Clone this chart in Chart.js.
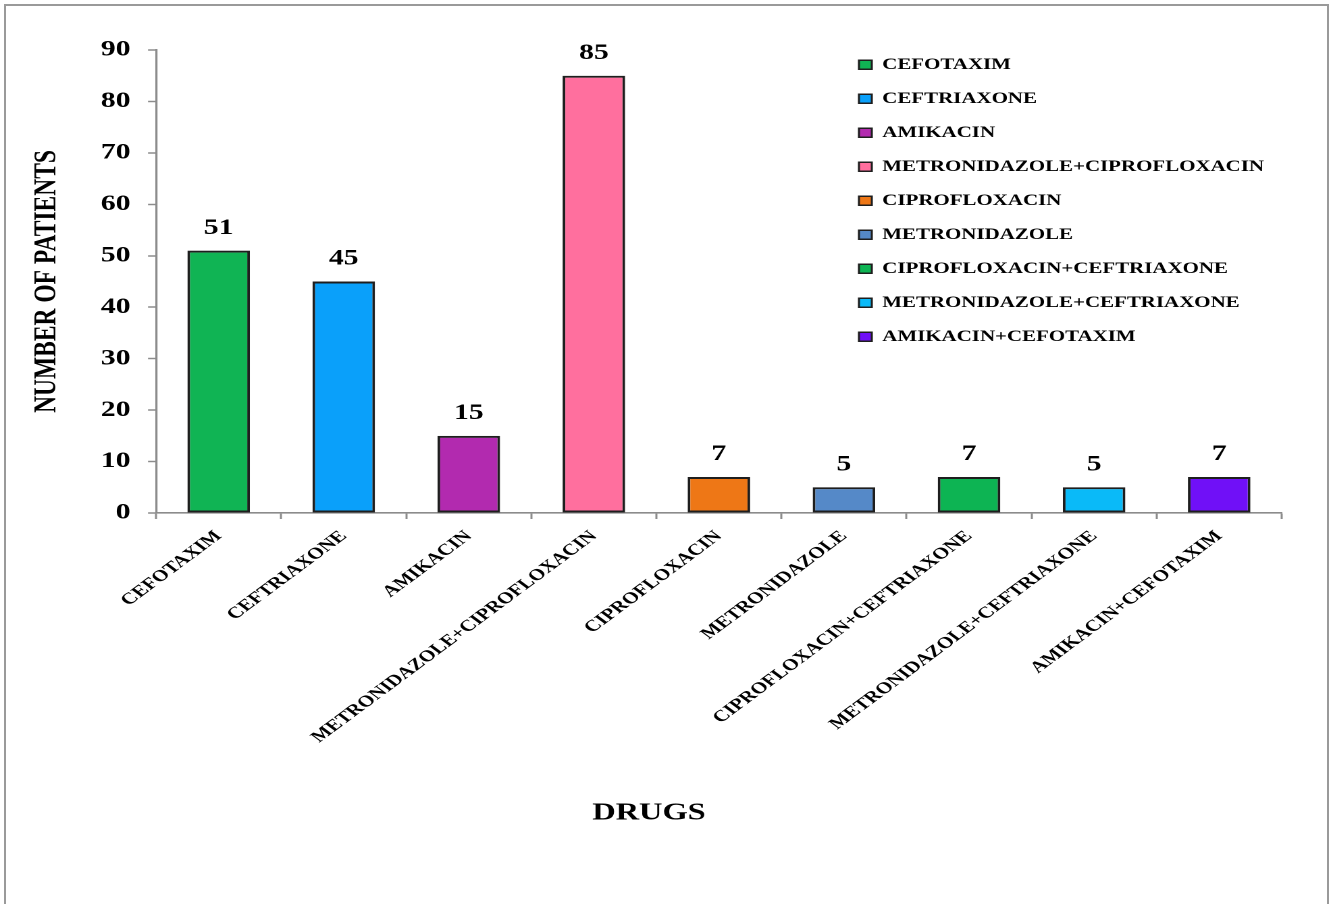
<!DOCTYPE html>
<html>
<head>
<meta charset="utf-8">
<title>Number of patients by drug</title>
<script src="https://cdn.jsdelivr.net/npm/chart.js@4.4.1/dist/chart.umd.min.js"></script>
<style>
  html, body { margin: 0; padding: 0; background: #fff; overflow: hidden; }
  #wrap { position: relative; width: 1333px; height: 904px; }
  #frame {
    position: absolute; left: 4px; top: 4px; width: 1321px; height: 930px;
    border: 2px solid #9a9a9a; pointer-events: none;
  }
</style>
</head>
<body>
<div id="wrap">
  <!-- drawn on a narrower canvas and widened to the page width -->
  <canvas id="c" width="987" height="904" style="display:block;width:1333px;height:904px"></canvas>
  <div id="frame"></div>
</div>
<script>
const drugs = [
  'CEFOTAXIM',
  'CEFTRIAXONE',
  'AMIKACIN',
  'METRONIDAZOLE+CIPROFLOXACIN',
  'CIPROFLOXACIN',
  'METRONIDAZOLE',
  'CIPROFLOXACIN+CEFTRIAXONE',
  'METRONIDAZOLE+CEFTRIAXONE',
  'AMIKACIN+CEFOTAXIM'
];
const patients = [51, 45, 15, 85, 7, 5, 7, 5, 7];
const barColors = [
  '#10B454', '#0AA0FA', '#B22AAF', '#FF6F9E', '#EE7716',
  '#5589C8', '#0DB453', '#0ABAF8', '#7010F7'
];
const yTicks = [0, 10, 20, 30, 40, 50, 60, 70, 80, 90];

const W = 987, H = 904;
const FONT = "'Liberation Serif', 'Times New Roman', serif";

// number written above each bar
const valueLabels = {
  id: 'valueLabels',
  afterDatasetsDraw(chart) {
    const ctx = chart.ctx;
    const meta = chart.getDatasetMeta(0);
    ctx.save();
    ctx.font = 'bold 22px ' + FONT;
    ctx.fillStyle = '#000';
    ctx.textAlign = 'center';
    ctx.textBaseline = 'middle';
    meta.data.forEach((bar, i) => {
      ctx.fillText(String(patients[i]), bar.x, bar.y - 22.5);
    });
    ctx.restore();
  }
};

// place the legend in the upper right part of the plot
const legendPlacer = {
  id: 'legendPlacer',
  beforeDraw(chart) {
    const lg = chart.legend;
    if (!lg) return;
    lg.left = 617.5;
    lg.top = 38.5;
    lg.right = W;
    lg.bottom = H;
    lg.width = lg.right - lg.left;
    lg.height = lg.bottom - lg.top;
  }
};

new Chart(document.getElementById('c'), {
  type: 'bar',
  data: {
    labels: drugs,
    datasets: [{
      data: patients,
      backgroundColor: barColors,
      borderColor: '#1e1e1e',
      borderWidth: 2,
      borderSkipped: false,
      barPercentage: 0.5,
      categoryPercentage: 1.0
    }]
  },
  options: {
    responsive: false,
    devicePixelRatio: 2,
    animation: false,
    layout: { padding: { left: 12, right: 38, top: 50, bottom: 0 } },
    plugins: {
      tooltip: { enabled: false },
      title: {
        display: true,
        position: 'bottom',
        text: 'DRUGS',
        color: '#000',
        font: { family: FONT, size: 24, weight: 'bold' },
        padding: { top: 0, bottom: 76.1 }
      },
      legend: {
        display: true,
        position: 'chartArea',
        align: 'start',
        labels: {
          color: '#000',
          font: { family: FONT, size: 15.5, weight: 'bold' },
          boxWidth: 9.5,
          boxHeight: 9,
          padding: 18.5,
          generateLabels: () => drugs.map((name, i) => ({
            text: name,
            fillStyle: barColors[i],
            strokeStyle: '#1e1e1e',
            lineWidth: 1.5,
            fontColor: '#000',
            hidden: false,
            index: i,
            datasetIndex: 0
          }))
        }
      }
    },
    scales: {
      x: {
        afterFit: (scale) => { scale.height = 286.1; },
        grid: {
          display: true,
          drawOnChartArea: false,
          drawTicks: true,
          tickLength: 6,
          tickWidth: 1.5,
          tickColor: '#8c8c8c',
          offset: true
        },
        border: { display: true, color: '#8c8c8c', width: 1.6 },
        ticks: {
          autoSkip: false,
          minRotation: 45,
          maxRotation: 45,
          padding: 8,
          color: '#000',
          font: { family: FONT, size: 16, weight: 'bold' }
        }
      },
      y: {
        min: 0,
        max: 90,
        afterFit: (scale) => { scale.width = 103.6; },
        afterBuildTicks: (scale) => { scale.ticks = yTicks.map(v => ({ value: v })); },
        grid: {
          display: true,
          drawOnChartArea: false,
          drawTicks: true,
          tickLength: 6,
          tickWidth: 1.5,
          tickColor: '#8c8c8c'
        },
        border: { display: true, color: '#8c8c8c', width: 1.6 },
        ticks: {
          padding: 13,
          color: '#000',
          font: { family: FONT, size: 22, weight: 'bold' }
        },
        title: {
          display: true,
          text: 'NUMBER OF PATIENTS',
          color: '#000',
          font: { family: FONT, size: 23.5, weight: 'bold' },
          padding: { top: 9, bottom: 0 }
        }
      }
    }
  },
  plugins: [valueLabels, legendPlacer]
});
</script>
</body>
</html>
